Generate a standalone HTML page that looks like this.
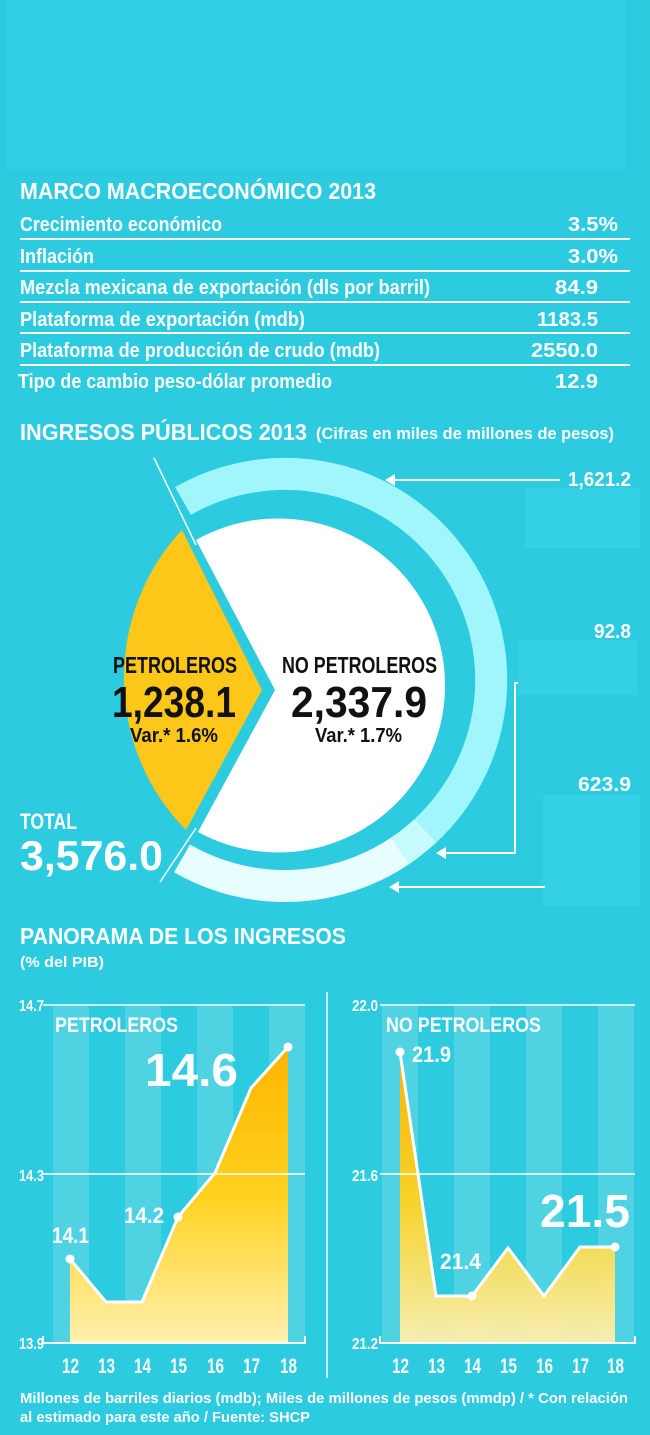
<!DOCTYPE html>
<html><head><meta charset="utf-8"><style>
html,body{margin:0;padding:0;background:#2ecbe2;}
svg{display:block}
text{font-family:"Liberation Sans",sans-serif;font-weight:bold;}
</style></head><body>
<svg width="650" height="1435" viewBox="0 0 650 1435" xmlns="http://www.w3.org/2000/svg">
<defs>
<linearGradient id="yl" x1="0" y1="0" x2="0" y2="1">
<stop offset="0" stop-color="#ffb400"/><stop offset="0.5" stop-color="#ffd21e"/><stop offset="1" stop-color="#fff0b0"/></linearGradient>
</defs>
<rect width="650" height="1435" fill="#2ccbe0"/>
<rect x="6" y="0" width="620" height="170" fill="#30cfe5"/>
<g fill="#fff">
<text x="20" y="199" font-size="23" textLength="356" lengthAdjust="spacingAndGlyphs">MARCO MACROECONÓMICO 2013</text>
<g font-size="20">
<text x="20" y="231" textLength="202" lengthAdjust="spacingAndGlyphs">Crecimiento económico</text><text x="568" y="231" textLength="50" lengthAdjust="spacingAndGlyphs">3.5%</text>
<text x="20" y="263" textLength="74" lengthAdjust="spacingAndGlyphs">Inflación</text><text x="568" y="263" textLength="50" lengthAdjust="spacingAndGlyphs">3.0%</text>
<text x="20" y="294" textLength="410" lengthAdjust="spacingAndGlyphs">Mezcla mexicana de exportación (dls por barril)</text><text x="555" y="294" textLength="43" lengthAdjust="spacingAndGlyphs">84.9</text>
<text x="20" y="326" textLength="285" lengthAdjust="spacingAndGlyphs">Plataforma de exportación (mdb)</text><text x="537" y="326" textLength="61" lengthAdjust="spacingAndGlyphs">1183.5</text>
<text x="20" y="357" textLength="360" lengthAdjust="spacingAndGlyphs">Plataforma de producción de crudo (mdb)</text><text x="531" y="357" textLength="67" lengthAdjust="spacingAndGlyphs">2550.0</text>
<text x="18" y="388" textLength="314" lengthAdjust="spacingAndGlyphs">Tipo de cambio peso-dólar promedio</text><text x="555" y="388" textLength="43" lengthAdjust="spacingAndGlyphs">12.9</text>
</g>
</g>
<g stroke="#fff" stroke-width="2">
<line x1="20" y1="239" x2="630" y2="239"/><line x1="20" y1="271" x2="630" y2="271"/>
<line x1="20" y1="302" x2="630" y2="302"/><line x1="20" y1="333" x2="630" y2="333"/>
<line x1="20" y1="365" x2="630" y2="365"/></g>
<text x="20" y="440" font-size="23" fill="#fff" textLength="287" lengthAdjust="spacingAndGlyphs">INGRESOS PÚBLICOS 2013</text>
<text x="316" y="439" font-size="17" fill="#fff" textLength="298" lengthAdjust="spacingAndGlyphs">(Cifras en miles de millones de pesos)</text>
<rect x="525" y="488" width="115" height="60" fill="#34d0e6"/>
<rect x="518" y="640" width="119" height="55" fill="#34d0e6"/>
<rect x="543" y="795" width="97" height="110" fill="#34d0e6"/>
<g fill="none" stroke-width="32">
<path d="M 183 501 A 206 206 0 0 1 425.5 830.7" stroke="#a0f6fb"/>
<path d="M 425.5 830.7 A 206 206 0 0 1 400.2 850.8" stroke="#c8fbfd"/>
<path d="M 400.2 850.8 A 206 206 0 0 1 182 858.4" stroke="#e8fdfe"/>
</g>
<line x1="154" y1="458" x2="196" y2="545" stroke="#fff" stroke-width="1.5"/>
<line x1="160" y1="882" x2="196" y2="828" stroke="#fff" stroke-width="1.5"/>
<path d="M 196 540 L 275 690 L 198 832 A 167 167 0 1 0 196 540 Z" fill="#fff"/>
<path d="M 182 530 L 262 690 L 186 830 A 200 210 0 0 1 182 530 Z" fill="#fcc719"/>
<g fill="#111">
<text x="113" y="673" font-size="23" textLength="124" lengthAdjust="spacingAndGlyphs">PETROLEROS</text>
<text x="112" y="717" font-size="44" textLength="124" lengthAdjust="spacingAndGlyphs">1,238.1</text>
<text x="130" y="742" font-size="20" font-weight="normal" textLength="88" lengthAdjust="spacingAndGlyphs">Var.* 1.6%</text>
<text x="282" y="673" font-size="23" textLength="155" lengthAdjust="spacingAndGlyphs">NO PETROLEROS</text>
<text x="291" y="717" font-size="44" textLength="136" lengthAdjust="spacingAndGlyphs">2,337.9</text>
<text x="315" y="742" font-size="20" font-weight="normal" textLength="87" lengthAdjust="spacingAndGlyphs">Var.* 1.7%</text>
</g>
<text x="20" y="829" font-size="22" fill="#fff" textLength="57" lengthAdjust="spacingAndGlyphs">TOTAL</text>
<text x="20" y="870" font-size="42" fill="#fff" textLength="143" lengthAdjust="spacingAndGlyphs">3,576.0</text>
<g fill="#fff" font-size="20">
<text x="568" y="486" textLength="63" lengthAdjust="spacingAndGlyphs">1,621.2</text>
<text x="594" y="638" textLength="37" lengthAdjust="spacingAndGlyphs">92.8</text>
<text x="578" y="791" textLength="53" lengthAdjust="spacingAndGlyphs">623.9</text></g>
<g stroke="#fff" stroke-width="2" fill="none">
<line x1="560" y1="480" x2="388" y2="480"/>
<polyline points="518,683 515,683 515,853 440,853"/>
<line x1="545" y1="887" x2="392" y2="887"/>
</g>
<g fill="#fff"><path d="M385 480 l10 -6 v12z"/><path d="M436 853 l10 -6 v12z"/><path d="M389 887 l10 -6 v12z"/></g>
<text x="20" y="944" font-size="23" fill="#fff" textLength="326" lengthAdjust="spacingAndGlyphs">PANORAMA DE LOS INGRESOS</text>
<text x="20" y="967" font-size="15" fill="#fff" textLength="84" lengthAdjust="spacingAndGlyphs">(% del PIB)</text>
<line x1="327" y1="992" x2="327" y2="1378" stroke="#fff" stroke-width="1.5"/>
<g fill="#4fd3e3">
<rect x="53" y="1005" width="36" height="338"/><rect x="125" y="1005" width="36" height="338"/>
<rect x="197" y="1005" width="36" height="338"/><rect x="269" y="1005" width="36" height="338"/>
<rect x="382" y="1005" width="36" height="338"/><rect x="454" y="1005" width="36" height="338"/>
<rect x="526" y="1005" width="36" height="338"/><rect x="598" y="1005" width="36" height="338"/>
</g>
<path d="M70 1259 L106 1302 L142 1302 L178 1217 L215 1173 L251 1088 L288 1047 L288 1343 L70 1343Z" fill="url(#yl)"/>
<path d="M400 1052 L436 1296 L472 1296 L508 1248 L544 1296 L580 1247 L615 1247 L615 1343 L400 1343Z" fill="url(#yl)" opacity="0.95"/>
<g stroke="#fff" stroke-width="1.5">
<line x1="43" y1="1005" x2="305" y2="1005"/><line x1="43" y1="1174" x2="305" y2="1174"/>
<line x1="380" y1="1005" x2="635" y2="1005"/><line x1="380" y1="1174" x2="635" y2="1174"/>
</g>
<g stroke="#fff" stroke-width="2" fill="none">
<polyline points="43,1336 43,1343 305,1343 305,1336"/>
<polyline points="380,1336 380,1343 635,1343 635,1336"/>
<polyline points="70,1259 106,1302 142,1302 178,1217 215,1173 251,1088 288,1047" stroke-width="3"/>
<polyline points="400,1052 436,1296 472,1296 508,1248 544,1296 580,1247 615,1247" stroke-width="3"/>
</g>
<g fill="#fff"><circle cx="70" cy="1259" r="4.5"/><circle cx="178" cy="1217" r="4.5"/><circle cx="288" cy="1047" r="4.5"/>
<circle cx="400" cy="1052" r="4.5"/><circle cx="472" cy="1296" r="4.5"/><circle cx="615" cy="1247" r="4.5"/></g>
<g fill="#fff" font-size="16">
<text x="19" y="1011" textLength="25" lengthAdjust="spacingAndGlyphs">14.7</text><text x="19" y="1181" textLength="25" lengthAdjust="spacingAndGlyphs">14.3</text><text x="19" y="1349" textLength="25" lengthAdjust="spacingAndGlyphs">13.9</text>
<text x="352" y="1011" textLength="26" lengthAdjust="spacingAndGlyphs">22.0</text><text x="352" y="1181" textLength="26" lengthAdjust="spacingAndGlyphs">21.6</text><text x="352" y="1349" textLength="26" lengthAdjust="spacingAndGlyphs">21.2</text></g>
<g fill="#fff" font-size="21" font-weight="normal">
<text x="62" y="1373" textLength="17" lengthAdjust="spacingAndGlyphs">12</text><text x="98" y="1373" textLength="17" lengthAdjust="spacingAndGlyphs">13</text><text x="134" y="1373" textLength="17" lengthAdjust="spacingAndGlyphs">14</text><text x="170" y="1373" textLength="17" lengthAdjust="spacingAndGlyphs">15</text><text x="207" y="1373" textLength="17" lengthAdjust="spacingAndGlyphs">16</text><text x="243" y="1373" textLength="17" lengthAdjust="spacingAndGlyphs">17</text><text x="280" y="1373" textLength="17" lengthAdjust="spacingAndGlyphs">18</text>
<text x="392" y="1373" textLength="17" lengthAdjust="spacingAndGlyphs">12</text><text x="428" y="1373" textLength="17" lengthAdjust="spacingAndGlyphs">13</text><text x="464" y="1373" textLength="17" lengthAdjust="spacingAndGlyphs">14</text><text x="500" y="1373" textLength="17" lengthAdjust="spacingAndGlyphs">15</text><text x="536" y="1373" textLength="17" lengthAdjust="spacingAndGlyphs">16</text><text x="572" y="1373" textLength="17" lengthAdjust="spacingAndGlyphs">17</text><text x="607" y="1373" textLength="17" lengthAdjust="spacingAndGlyphs">18</text></g>
<g fill="#fff">
<text x="55" y="1032" font-size="21" textLength="123" lengthAdjust="spacingAndGlyphs">PETROLEROS</text>
<text x="386" y="1032" font-size="21" textLength="155" lengthAdjust="spacingAndGlyphs">NO PETROLEROS</text>
<text x="145" y="1086" font-size="46" textLength="93" lengthAdjust="spacingAndGlyphs">14.6</text>
<text x="540" y="1227" font-size="46" textLength="90" lengthAdjust="spacingAndGlyphs">21.5</text>
<text x="52" y="1243" font-size="22" textLength="37" lengthAdjust="spacingAndGlyphs">14.1</text>
<text x="124" y="1223" font-size="22" textLength="40" lengthAdjust="spacingAndGlyphs">14.2</text>
<text x="412" y="1062" font-size="22" textLength="39" lengthAdjust="spacingAndGlyphs">21.9</text>
<text x="440" y="1269" font-size="22" textLength="41" lengthAdjust="spacingAndGlyphs">21.4</text>
</g>
<g fill="#fff" font-size="15">
<text x="20" y="1403" textLength="608" lengthAdjust="spacingAndGlyphs">Millones de barriles diarios (mdb); Miles de millones de pesos (mmdp) / * Con relación</text>
<text x="20" y="1422" textLength="290" lengthAdjust="spacingAndGlyphs">al estimado para este año / Fuente: SHCP</text></g>
</svg>
</body></html>
